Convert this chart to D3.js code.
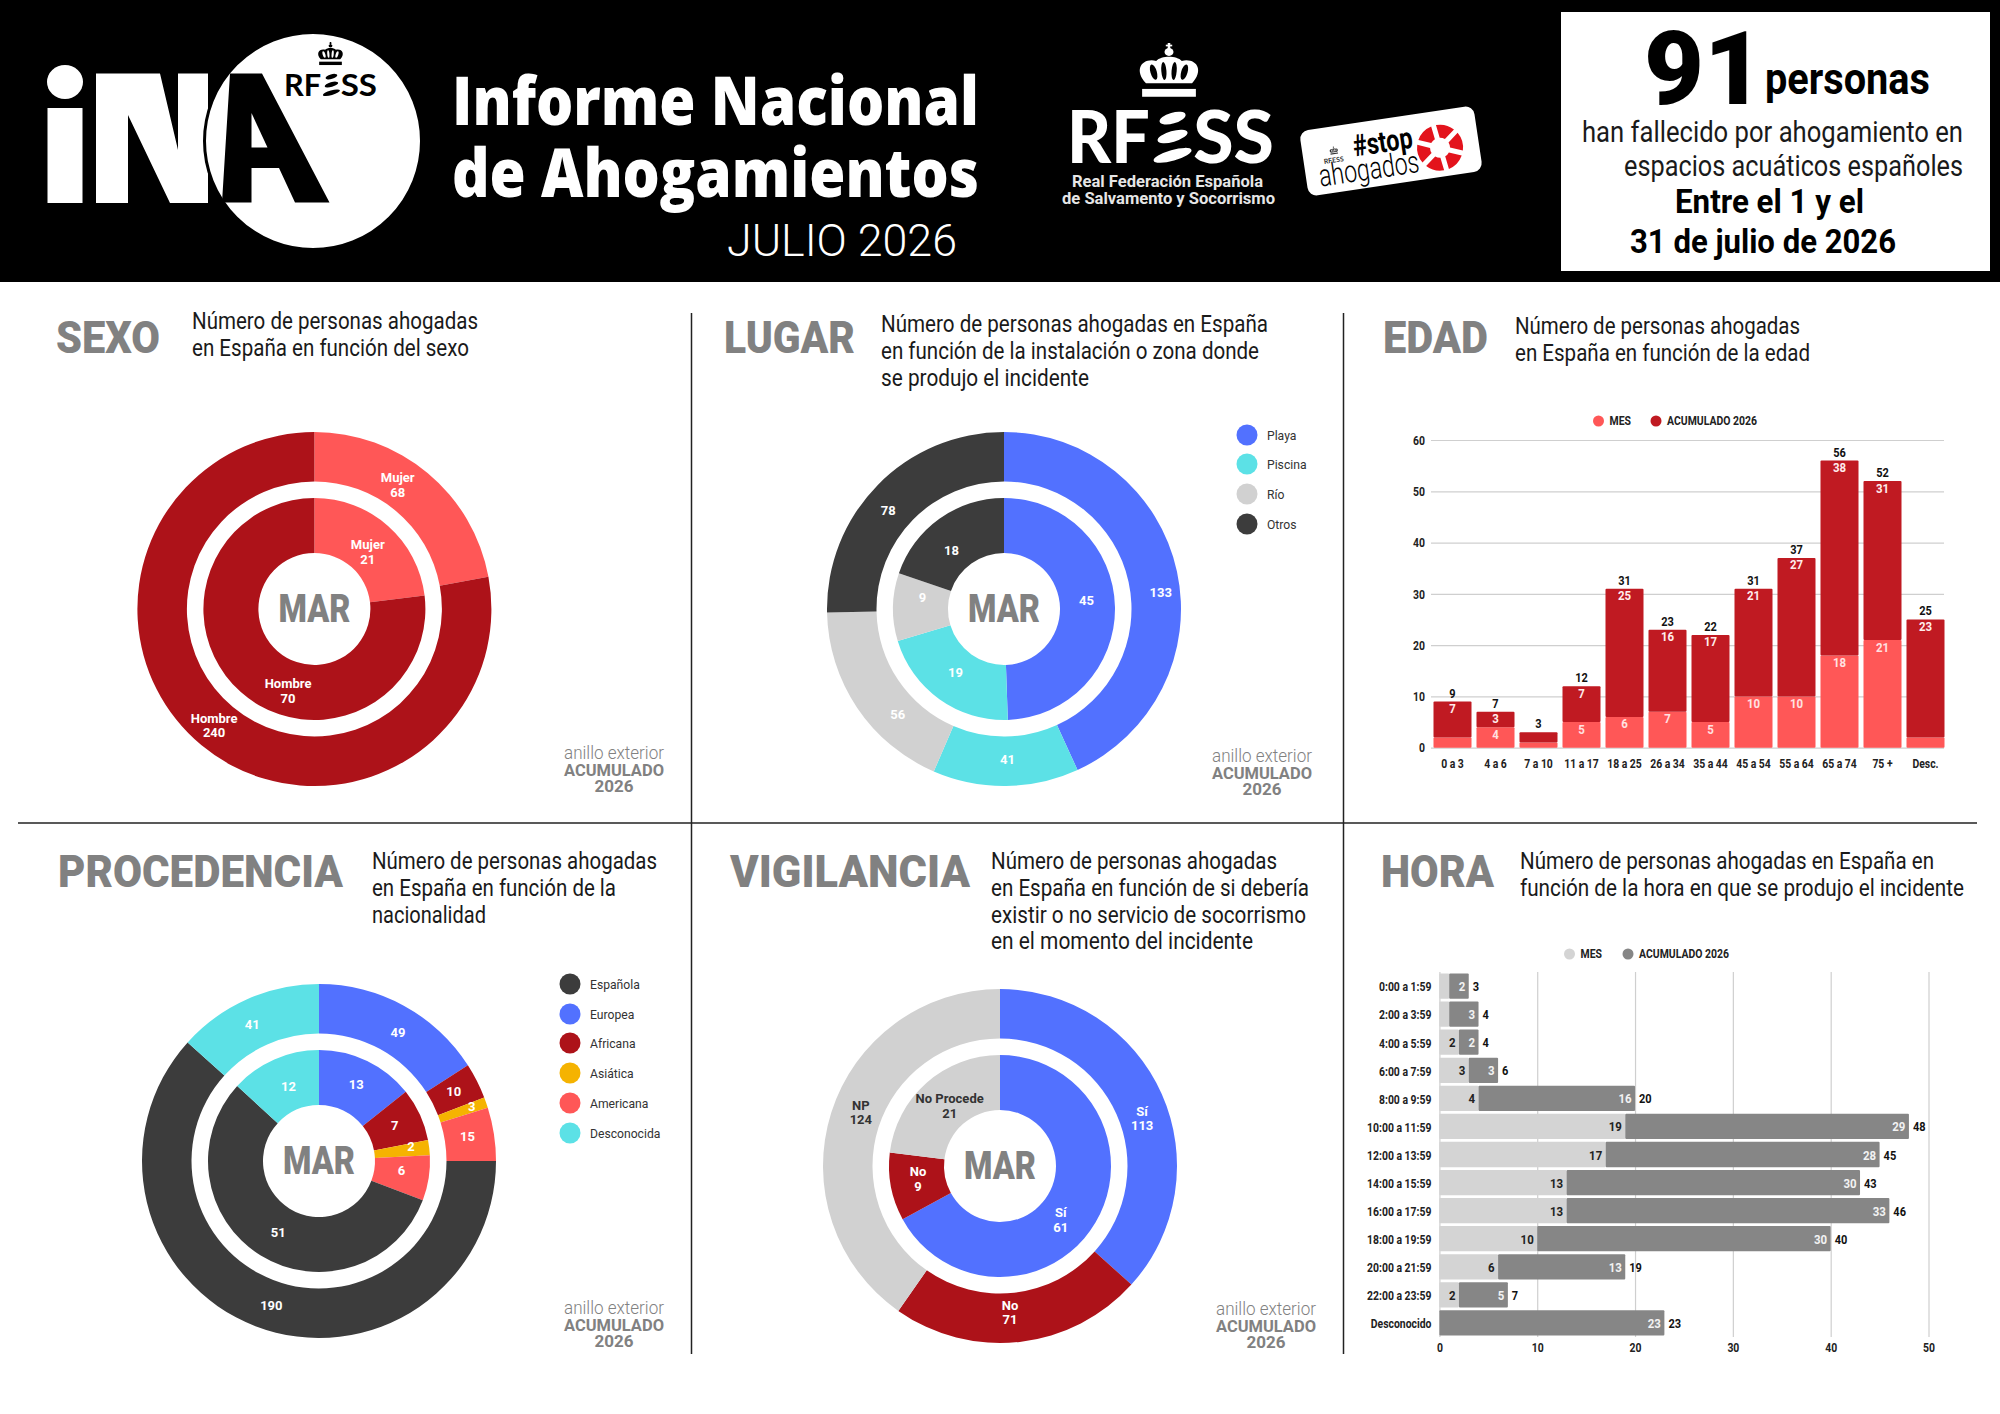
<!DOCTYPE html>
<html>
<head>
<meta charset="utf-8">
<script src="https://cdn.jsdelivr.net/npm/d3@7"></script>
<style>
    body { margin: 0; background: white; }
    svg { display: block; }
</style>
</head>
<body>
<svg id="chart" width="2000" height="1414"></svg>
<script>
// Data
const sexoCats = ["Mujer", "Hombre"]
const sexoAcum = [68, 240]
const sexoMes = [21, 70]

const lugarCats = ["Playa", "Piscina", "Río", "Otros"]
const lugarAcum = [133, 41, 56, 78]
const lugarMes = [45, 19, 9, 18]

const procCats = ["Europea", "Africana", "Asiática", "Americana", "Española", "Desconocida"]
const procLegend = ["Española", "Europea", "Africana", "Asiática", "Americana", "Desconocida"]
const procAcum = [49, 10, 3, 15, 190, 41]
const procMes = [13, 7, 2, 6, 51, 12]

const vigiCats = ["Sí", "No", "NP"]
const vigiMesCats = ["Sí", "No", "No Procede"]
const vigiAcum = [113, 71, 124]
const vigiMes = [61, 9, 21]

const edadCats = ["0 a 3", "4 a 6", "7 a 10", "11 a 17", "18 a 25", "26 a 34", "35 a 44", "45 a 54", "55 a 64", "65 a 74", "75 +", "Desc."]
const edadMes = [2, 4, 1, 5, 6, 7, 5, 10, 10, 18, 21, 2]
const edadAcum = [7, 3, 2, 7, 25, 16, 17, 21, 27, 38, 31, 23]
const edadTicks = [0, 10, 20, 30, 40, 50, 60]

const horaCats = ["0:00 a 1:59", "2:00 a 3:59", "4:00 a 5:59", "6:00 a 7:59", "8:00 a 9:59", "10:00 a 11:59", "12:00 a 13:59", "14:00 a 15:59", "16:00 a 17:59", "18:00 a 19:59", "20:00 a 21:59", "22:00 a 23:59", "Desconocido"]
const horaMes = [1, 1, 2, 3, 4, 19, 17, 13, 13, 10, 6, 2, 0]
const horaAcum = [2, 3, 2, 3, 16, 29, 28, 30, 33, 30, 13, 5, 23]
const horaTicks = [0, 10, 20, 30, 40, 50]

const seriesNames = ["MES", "ACUMULADO 2026"]

// Colours
const blue = "#5271ff", cyan = "#5ce1e6", grey = "#d1d1d1", dark = "#3c3c3c"
const wine = "#ad1219", red = "#ff5757", yellow = "#f5b301"
const titleGrey = "#818181"
const narrow = "Roboto,sans-serif"
const open = "'Open Sans',sans-serif"

// Nudges of the slice labels from the arc centroid, the source chart does not centre them
const sexoNudge = { outer: [[-14, -7], [-3, -1]], inner: [[-2, 5], [29, 19]] }
const lugarNudge = { outer: [[8, 16], [2, -2], [20, 21], [-7, 8]], inner: [[-1, -7], [0, -4], [2, -10], [-4, 9]] }
const procNudge = { outer: [[6, 5], [-1, -1], [9, -4], [-2, -1], [7, 2], [-5, 3]], inner: [[1, -1], [0, -1], [9, -4], [0, -3], [3, 0], [3, 2]] }
const vigiNudge = { outer: [[3, 14], [-7, -5], [6, -8]], inner: [[-11, 11], [0, -3], [5, 2]] }

const svg = d3.select("#chart")

// squeeze a text to a share of its natural width, no condensed face is installed
function squeeze(t, cond) {
    t.attr("textLength", t.node().getComputedTextLength() * cond).attr("lengthAdjust", "spacingAndGlyphs")
}

// text helper, len forces the width
function txt(g, str, x, y, o = {}) {
    const t = g.append("text")
        .attr("x", x).attr("y", y)
        .attr("font-family", o.font || narrow)
        .attr("font-size", o.size || 13)
        .attr("font-weight", o.weight || 400)
        .attr("fill", o.fill || "#1a1a1a")
        .attr("text-anchor", o.anchor || "start")
        .text(str)
    if (o.len) t.attr("textLength", o.len).attr("lengthAdjust", "spacingAndGlyphs")
    if (o.cond) squeeze(t, o.cond)
    return t
}

function drawCrown(g, x, y, sx, sy, color, bg) {
    const c = g.append("g").attr("transform", `translate(${x},${y}) scale(${sx},${sy})`)
    c.append("rect").attr("x", 8).attr("y", 82).attr("width", 84).attr("height", 14).attr("fill", color)
    c.append("path")
        .attr("d", "M14 72 C-6 48 8 26 30 32 C38 22 62 22 70 32 C92 26 106 48 86 72 Z")
        .attr("fill", color)
    ;[[26, 52, 5, 14, -14], [42, 50, 4, 16, -4], [58, 50, 4, 16, 4], [74, 52, 5, 14, 14]].forEach(s => {
        c.append("ellipse").attr("cx", s[0]).attr("cy", s[1]).attr("rx", s[2]).attr("ry", s[3])
            .attr("transform", `rotate(${s[4]} ${s[0]} ${s[1]})`).attr("fill", bg)
    })
    c.append("circle").attr("cx", 50).attr("cy", 16).attr("r", 7).attr("fill", color)
    c.append("rect").attr("x", 48).attr("y", 0).attr("width", 4).attr("height", 12).attr("fill", color)
    c.append("rect").attr("x", 45).attr("y", 3).attr("width", 10).attr("height", 3).attr("fill", color)
}

function drawRfess(g, x, y, w, h, color, weight) {
    const size = h / 0.711
    txt(g, "RF", x, y + h, { font: "Lato,sans-serif", size: size, weight: weight, fill: color, len: w * 0.4 })
    txt(g, "SS", x + w * 0.61, y + h, { font: "Lato,sans-serif", size: size, weight: weight, fill: color, len: w * 0.39 })
    ;[[0.12, 0.065], [0.48, 0.075], [0.85, 0.095]].forEach(e => {
        g.append("ellipse")
            .attr("cx", x + w * 0.51).attr("cy", y + h * e[0])
            .attr("rx", w * e[1]).attr("ry", h * 0.105)
            .attr("transform", `rotate(-16 ${x + w * 0.51} ${y + h * e[0]})`)
            .attr("fill", color)
    })
}

function drawHeader() {
    const g = svg.append("g")
    g.append("rect").attr("width", 2000).attr("height", 282).attr("fill", "black")

    // iNA logo
    g.append("ellipse").attr("cx", 65).attr("cy", 82).attr("rx", 18).attr("ry", 17).attr("fill", "white")
    g.append("rect").attr("x", 47.5).attr("y", 108).attr("width", 35).attr("height", 95).attr("fill", "white")
    g.append("path").attr("fill", "white")
        .attr("d", "M96 73.5 L160 73.5 L178 150 L178 73.5 L208 73.5 L208 203 L170 203 L128 115 L128 203 L96 203 Z")
    g.append("circle").attr("cx", 313).attr("cy", 141).attr("r", 108.5)
        .attr("fill", "white").attr("stroke", "black").attr("stroke-width", 3)
    g.append("path").attr("fill", "black")
        .attr("d", "M230 73.5 L262 73.5 L329.5 202.5 L295 202.5 L279 168 L251.5 168 L251.5 202.5 L222 202.5 Z")
    g.append("path").attr("fill", "white").attr("d", "M251.5 113 L267.5 147.5 L251.5 147.5 Z")
    drawCrown(g, 317, 42, 0.27, 0.24, "black", "white")
    drawRfess(g, 284, 74, 93, 22, "black", 700)

    // Title
    txt(g, "Informe Nacional", 452, 125, { font: open, size: 67, weight: 800, fill: "white", len: 527 })
    txt(g, "de Ahogamientos", 452, 197, { font: open, size: 67, weight: 800, fill: "white", len: 527 })
    txt(g, "JULIO 2026", 727, 256, { size: 44, weight: 300, fill: "white", len: 230 })

    // RFESS logo
    drawCrown(g, 1137, 43, 0.64, 0.56, "white", "black")
    drawRfess(g, 1067, 112, 207, 51, "white", 900)
    txt(g, "Real Federación Española", 1072, 187, { size: 16, weight: 700, fill: "#e6e6e6", len: 191 })
    txt(g, "de Salvamento y Socorrismo", 1062, 204, { size: 16, weight: 700, fill: "#e6e6e6", len: 213 })

    // stop ahogados badge
    const b = g.append("g").attr("transform", "translate(1391,151) rotate(-8.5)")
    b.append("rect").attr("x", -88).attr("y", -33).attr("width", 176).attr("height", 66).attr("rx", 9).attr("fill", "white")
    drawCrown(b, -61, -13, 0.09, 0.08, "#333", "white")
    txt(b, "RFESS", -68, 3, { font: "Lato,sans-serif", size: 7, weight: 700, fill: "#333", len: 20 })
    txt(b, "#stop", -37, 0, { size: 30, weight: 700, fill: "black", len: 60 })
    txt(b, "ahogados", -75, 25, { size: 31, weight: 300, fill: "black", len: 101 })
    const blob = d3.arc().innerRadius(10).outerRadius(23).padRadius(12).padAngle(0.42)
    d3.pie().sort(null)([1, 1, 1, 1, 1, 1]).forEach(a => {
        b.append("path").attr("transform", "translate(49,4) rotate(-8)")
            .attr("d", blob(a)).attr("fill", "#e3131c")
    })

    // Box
    g.append("rect").attr("x", 1561).attr("y", 12).attr("width", 429).attr("height", 259).attr("fill", "white")
    txt(g, "91", 1644, 104, { size: 102, weight: 900, fill: "black", len: 120 })
    txt(g, "personas", 1765, 94, { size: 44, weight: 700, fill: "black", len: 165 })
    txt(g, "han fallecido por ahogamiento en", 1582, 142, { size: 29, fill: "#1a1a1a", len: 381 })
    txt(g, "espacios acuáticos españoles", 1624, 176, { size: 29, fill: "#1a1a1a", len: 339 })
    txt(g, "Entre el 1 y el", 1675, 213, { size: 33, weight: 700, fill: "black", len: 189 })
    txt(g, "31 de julio de 2026", 1630, 253, { size: 33, weight: 700, fill: "black", len: 266 })
}

function drawFrame() {
    const g = svg.append("g").attr("stroke", "#222").attr("stroke-width", 1.5)
    g.append("line").attr("x1", 18).attr("x2", 1977).attr("y1", 823).attr("y2", 823)
    g.append("line").attr("x1", 691.5).attr("x2", 691.5).attr("y1", 313).attr("y2", 1354)
    g.append("line").attr("x1", 1343.5).attr("x2", 1343.5).attr("y1", 313).attr("y2", 1354)
}

function drawHeading(title, tx, tw, ty, lines) {
    const g = svg.append("g")
    txt(g, title, tx, ty, { size: 44, weight: 900, fill: titleGrey, len: tw })
    lines.forEach(l => txt(g, l[0], l[1], l[2] + 1.3, { size: 23.5, fill: "#1a1a1a", len: l[3] }))
}

function drawRingNote(cx, y) {
    const g = svg.append("g")
    txt(g, "anillo exterior", cx, y, { size: 18, weight: 300, fill: titleGrey, anchor: "middle", len: 100 })
    txt(g, "ACUMULADO", cx, y + 16.5, { size: 17, weight: 700, fill: titleGrey, anchor: "middle", len: 100 })
    txt(g, "2026", cx, y + 33, { size: 17, weight: 700, fill: titleGrey, anchor: "middle", len: 39 })
}

function drawRing(g, cats, values, colours, radii, nudge, named, labelColours) {
    const pie = d3.pie().sort(null)
    const arc = d3.arc().innerRadius(radii[0]).outerRadius(radii[1])
    const slices = pie(values)
    g.selectAll(null).data(slices).join("path")
        .attr("d", arc)
        .attr("fill", (d, i) => colours[i])
    slices.forEach((s, i) => {
        const c = arc.centroid(s)
        const x = c[0] + nudge[i][0], y = c[1] + nudge[i][1]
        const fill = labelColours ? labelColours[i] : "white"
        const o = { size: 13, weight: 700, fill: fill, anchor: "middle" }
        if (named) {
            txt(g, cats[i], x, y - 2.5, o)
            txt(g, values[i], x, y + 12, o)
        } else {
            txt(g, values[i], x, y + 4.5, o)
        }
    })
}

// Double ring, outer ring is the year so far and inner ring the month
function drawDonut(cx, cy, cats, innerCats, acum, mes, colours, nudge, named, labelColours) {
    const g = svg.append("g").attr("transform", `translate(${cx},${cy})`)
    drawRing(g, cats, acum, colours, [127.5, 177], nudge.outer, named, labelColours)
    drawRing(g, innerCats, mes, colours, [56, 111], nudge.inner, named, labelColours)
    txt(g, "MAR", 0, 12.5, { size: 38, weight: 900, fill: titleGrey, anchor: "middle", len: 72 })
}

function drawLegend(x, ys, names, colours) {
    const g = svg.append("g")
    names.forEach((n, i) => {
        g.append("circle").attr("cx", x).attr("cy", ys[i]).attr("r", 10.5).attr("fill", colours[i])
        txt(g, n, x + 20, ys[i] + 4.5, { size: 13.5, fill: "#333", cond: 0.9 })
    })
}

function drawSeriesLegend(y, xs, colours) {
    const g = svg.append("g")
    seriesNames.forEach((n, i) => {
        g.append("circle").attr("cx", xs[i]).attr("cy", y).attr("r", 5.5).attr("fill", colours[i])
        txt(g, n, xs[i] + 11, y + 4, { size: 12, weight: 700, fill: "#222", cond: 0.87 })
    })
}

function styleAxis(a, size) {
    a.select(".domain").remove()
    a.selectAll(".tick line").attr("stroke", "#cfcfcf").attr("stroke-width", 1.2)
    a.selectAll(".tick text")
        .attr("font-family", narrow).attr("font-size", size)
        .attr("font-weight", 700).attr("fill", "#222")
        .each(function () { squeeze(d3.select(this), 0.8) })
}

function drawEdad() {
    const g = svg.append("g")
    const x = d3.scaleBand().domain(edadCats).range([1431, 1947]).paddingInner(0.116).paddingOuter(0.058)
    const y = d3.scaleLinear().domain([0, 60]).range([747.7, 440])

    styleAxis(g.append("g").attr("transform", "translate(1431,0)")
        .call(d3.axisLeft(y).tickValues(edadTicks).tickSize(-513).tickPadding(6)), 13)
    styleAxis(g.append("g").attr("transform", "translate(0,747.7)")
        .call(d3.axisBottom(x).tickSize(0).tickPadding(11)), 13)

    const rows = edadCats.map((c, i) => ({ cat: c, mes: edadMes[i], acum: edadAcum[i] }))
    const layers = d3.stack().keys(["mes", "acum"])(rows)
    const colours = { mes: red, acum: "#c01a22" }
    layers.forEach(layer => {
        g.selectAll(null).data(layer).join("rect")
            .attr("x", d => x(d.data.cat))
            .attr("y", d => y(d[1]))
            .attr("width", x.bandwidth())
            .attr("height", d => y(d[0]) - y(d[1]))
            .attr("rx", 1)
            .attr("fill", colours[layer.key])
        layer.forEach(d => {
            const v = d.data[layer.key]
            if (v < 3) return
            txt(g, v, x(d.data.cat) + x.bandwidth() / 2, y(d[1]) + 11.5, { size: 13, weight: 700, fill: layer.key == "mes" ? "#ffe1e1" : "#ffecec", anchor: "middle", cond: 0.88 })
        })
    })
    rows.forEach(r => {
        txt(g, r.mes + r.acum, x(r.cat) + x.bandwidth() / 2, y(r.mes + r.acum) - 4, { size: 12.5, weight: 700, fill: "#111", anchor: "middle", cond: 0.88 })
    })
}

function drawHora() {
    const g = svg.append("g")
    const x = d3.scaleLinear().domain([0, 50]).range([1439.4, 1928.5])
    const y = d3.scaleBand().domain(horaCats).range([972, 1337]).paddingInner(0.1).paddingOuter(0.05)

    styleAxis(g.append("g").attr("transform", "translate(0,1337)")
        .call(d3.axisBottom(x).tickValues(horaTicks).tickSize(-365).tickPadding(6)), 13)
    styleAxis(g.append("g").attr("transform", "translate(1439.4,1.2)")
        .call(d3.axisLeft(y).tickSize(0).tickPadding(8)), 13)

    const rows = horaCats.map((c, i) => ({ cat: c, mes: horaMes[i], acum: horaAcum[i] }))
    const layers = d3.stack().keys(["mes", "acum"])(rows)
    const colours = { mes: "#d4d4d4", acum: "#868686" }
    layers.forEach(layer => {
        g.selectAll(null).data(layer).join("rect")
            .attr("x", d => x(d[0]))
            .attr("y", d => y(d.data.cat))
            .attr("width", d => x(d[1]) - x(d[0]))
            .attr("height", y.bandwidth())
            .attr("rx", 1)
            .attr("fill", colours[layer.key])
        layer.forEach(d => {
            const v = d.data[layer.key]
            if (v < 2) return
            txt(g, v, x(d[1]) - 3.5, y(d.data.cat) + y.bandwidth() / 2 + 5, { size: 13, weight: 700, fill: layer.key == "mes" ? "#222" : "#f2f2f2", anchor: "end", cond: 0.88 })
        })
    })
    rows.forEach(r => {
        txt(g, r.mes + r.acum, x(r.mes + r.acum) + 4, y(r.cat) + y.bandwidth() / 2 + 5, { size: 12.5, weight: 700, fill: "#111", cond: 0.88 })
    })
}

drawHeader()
drawFrame()

drawHeading("SEXO", 56, 104, 353, [["Número de personas ahogadas", 192, 328, 286], ["en España en función del sexo", 192, 355, 277]])
drawHeading("LUGAR", 724, 131, 353, [["Número de personas ahogadas en España", 881, 331, 387], ["en función de la instalación o zona donde", 881, 358, 378], ["se produjo el incidente", 881, 385, 208]])
drawHeading("EDAD", 1383, 105, 353, [["Número de personas ahogadas", 1515, 333, 285], ["en España en función de la edad", 1515, 360, 295]])
drawHeading("PROCEDENCIA", 58, 285, 887, [["Número de personas ahogadas", 372, 868, 285], ["en España en función de la", 372, 895, 244], ["nacionalidad", 372, 922, 114]])
drawHeading("VIGILANCIA", 730, 240, 887, [["Número de personas ahogadas", 991, 868, 286], ["en España en función de si debería", 991, 895, 318], ["existir o no servicio de socorrismo", 991, 922, 315], ["en el momento del incidente", 991, 948, 262]])
drawHeading("HORA", 1381, 113, 887, [["Número de personas ahogadas en España en", 1520, 868, 414], ["función de la hora en que se produjo el incidente", 1520, 895, 444]])

drawDonut(314.4, 609, sexoCats, sexoCats, sexoAcum, sexoMes, [red, wine], sexoNudge, true)
drawRingNote(614, 759)

drawDonut(1004, 609, lugarCats, lugarCats, lugarAcum, lugarMes, [blue, cyan, grey, dark], lugarNudge, false)
drawLegend(1247, [435, 464, 494, 524], lugarCats, [blue, cyan, grey, dark])
drawRingNote(1262, 762)

drawDonut(319, 1161, procCats, procCats, procAcum, procMes, [blue, wine, yellow, red, dark, cyan], procNudge, false)
drawLegend(570, [984, 1014, 1043, 1073, 1103, 1133], procLegend, [dark, blue, wine, yellow, red, cyan])
drawRingNote(614, 1314)

drawDonut(1000, 1166, vigiCats, vigiMesCats, vigiAcum, vigiMes, [blue, wine, grey], vigiNudge, true, ["white", "white", "#333"])
drawRingNote(1266, 1315)

drawSeriesLegend(421, [1598.5, 1656], [red, "#c01a22"])
drawEdad()
drawSeriesLegend(954, [1569.5, 1628], ["#d4d4d4", "#868686"])
drawHora()
</script>
</body>
</html>
